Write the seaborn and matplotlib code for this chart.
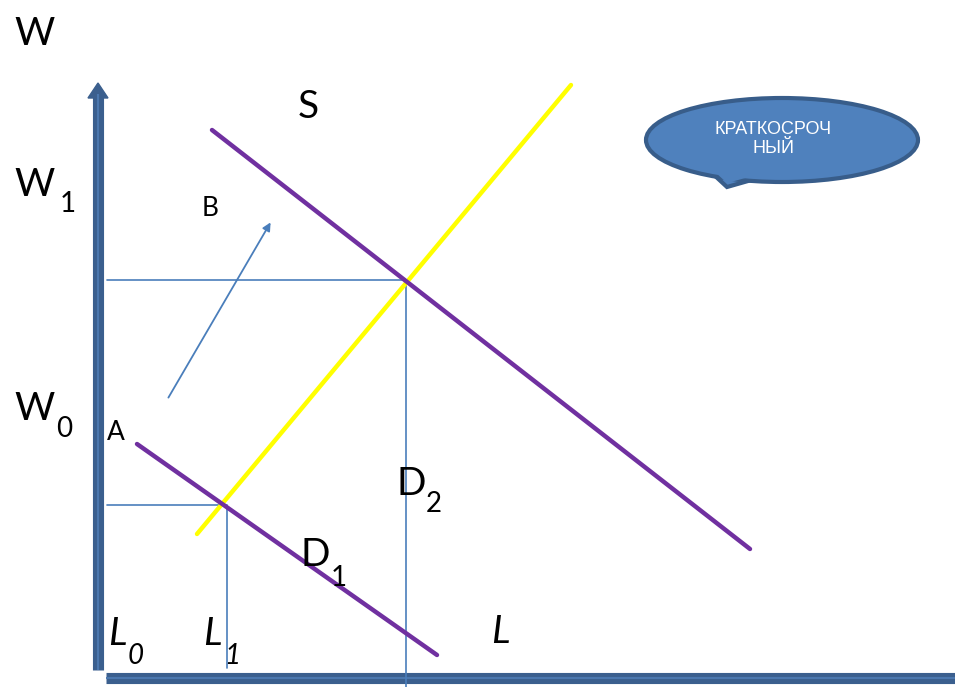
import matplotlib
matplotlib.use("Agg")
import matplotlib.pyplot as plt
import seaborn as sns
import pandas as pd
from matplotlib.patches import Ellipse, Polygon

sns.set_theme(style="white")
plt.rcParams['font.family'] = ['Lato', 'DejaVu Sans']

# Diagram data (pixel-like coordinate space, y downward)
supply_x = [197, 571]
supply_y = [534, 85]
d2_x = [212, 750]
d2_y = [130, 549]
d1_x = [137, 437]
d1_y = [444, 655]
guide1_x = [107, 406, 406]
guide1_y = [280, 280, 687]
guide2_x = [107, 227, 227]
guide2_y = [505, 505, 668]
shift_from = (167, 400)
shift_to = (272, 220)
yaxis_x = [98, 98]
yaxis_y = [670, 94]
xaxis_x = [106, 960]
xaxis_y = [678, 678]
bubble_text = "КРАТКОСРОЧ\nНЫЙ"

fig = plt.figure(figsize=(9.55, 6.87), dpi=100)
ax = fig.add_axes([0, 0, 1, 1])
ax.set_xlim(0, 955)
ax.set_ylim(687, 0)
ax.axis("off")

def seg(xs, ys, **kw):
    df = pd.DataFrame({"x": xs, "y": ys, "o": range(len(xs))})
    sns.lineplot(data=df, x="x", y="y", sort=False, estimator=None, ax=ax, **kw)

axis_dark = "#3B5F8E"
axis_light = "#4B77AE"
# axes
seg(yaxis_x, yaxis_y, color=axis_dark, linewidth=8, solid_capstyle="butt")
seg(yaxis_x, yaxis_y, color=axis_light, linewidth=1.5, solid_capstyle="butt")
ax.add_patch(Polygon([[88, 98], [98, 83], [108, 98]], closed=True, color=axis_dark))
seg(xaxis_x, xaxis_y, color=axis_dark, linewidth=8, solid_capstyle="butt")
seg(xaxis_x, xaxis_y, color=axis_light, linewidth=1.5, solid_capstyle="butt")

# guide lines
seg(guide1_x, guide1_y, color="#4A7EBB", linewidth=1.2)
seg(guide2_x, guide2_y, color="#4A7EBB", linewidth=1.2)

# curves
seg(supply_x, supply_y, color="#FFFF00", linewidth=3.2)
seg(d2_x, d2_y, color="#7030A0", linewidth=3.2)
seg(d1_x, d1_y, color="#7030A0", linewidth=3.2)

# shift arrow
ax.annotate("", xy=shift_to, xytext=shift_from,
            arrowprops=dict(arrowstyle="-|>", color="#4A7EBB", lw=1.3, mutation_scale=12))

# labels
big = 28
sub = 20
small = 19
ax.text(14, 45, "W", fontsize=big, color="black")
ax.text(298, 118, "S", fontsize=big, color="black")
ax.text(14, 196, "W", fontsize=big, color="black")
ax.text(60, 212, "1", fontsize=sub, color="black")
ax.text(202, 216, "B", fontsize=small, color="black")
ax.text(14, 420, "W", fontsize=big, color="black")
ax.text(56, 437, "0", fontsize=sub, color="black")
ax.text(107, 440, "A", fontsize=small, color="black")
ax.text(396, 495, "D", fontsize=big, color="black")
ax.text(426, 512, "2", fontsize=sub, color="black")
ax.text(300, 566, "D", fontsize=big, color="black")
ax.text(331, 586, "1", fontsize=sub, color="black")
ax.text(108, 645, "L", fontsize=big, color="black", style="italic")
ax.text(128, 664, "0", fontsize=sub, color="black", style="italic")
ax.text(203, 645, "L", fontsize=big, color="black", style="italic")
ax.text(224, 664, "1", fontsize=sub, color="black", style="italic")
ax.text(491, 643, "L", fontsize=big, color="black", style="italic")

# speech bubble
ell = Ellipse((782, 140), 272, 84, facecolor="#4F81BD", edgecolor="#385D8A", linewidth=3, zorder=5)
ax.add_patch(ell)
tail = Polygon([[713, 174], [727, 187], [762, 177]], closed=True, facecolor="#4F81BD",
               edgecolor="#385D8A", linewidth=3, zorder=4)
ax.add_patch(tail)
tail2 = Polygon([[715, 172], [727, 183], [760, 174]], closed=True, facecolor="#4F81BD",
                edgecolor="none", zorder=6)
ax.add_patch(tail2)
ax.text(773, 139, bubble_text, fontsize=13, color="white", ha="center", va="center",
        family=["Liberation Sans", "DejaVu Sans"], linespacing=1.1, zorder=7)

fig.savefig("out.png", dpi=100)
